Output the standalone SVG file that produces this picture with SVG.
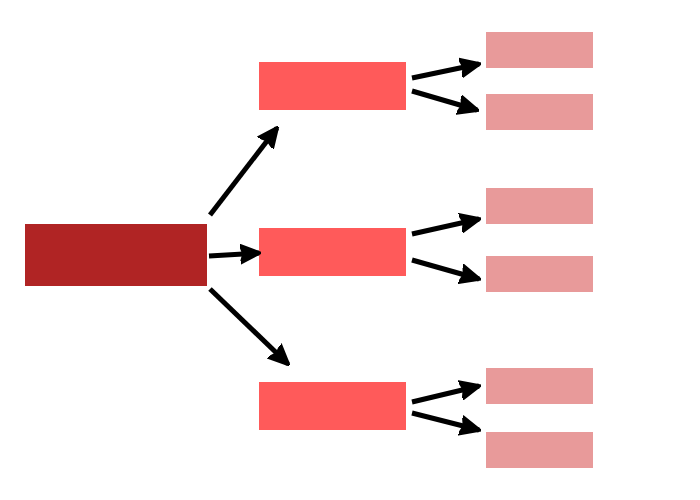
<svg xmlns="http://www.w3.org/2000/svg" width="700" height="500" viewBox="0 0 700 500">
<style>
.root{fill:#b02424}
.mid{fill:#ff5a5a}
.leaf{fill:#e89a9a}
.c{stroke:#000;stroke-width:5;fill:none;marker-end:url(#ah)}
</style>
<defs>
<marker id="ah" viewBox="0 0 10 10" refX="9" refY="5" markerWidth="4.2" markerHeight="4.2" markerUnits="strokeWidth" orient="auto">
<path d="M0,0.5 L10,5 L0,9.5 L1.5,5 Z" fill="#000" stroke="#000" stroke-width="1" stroke-linejoin="round"/>
</marker>
</defs>
<rect width="700" height="500" fill="#fff"/>
<g id="root"><rect class="root" x="25" y="224" width="182" height="62"/></g>
<g id="m1"><rect class="mid" x="259" y="62" width="147" height="48"/></g>
<g id="m2"><rect class="mid" x="259" y="228" width="147" height="48"/></g>
<g id="m3"><rect class="mid" x="259" y="382" width="147" height="48"/></g>
<g id="l1"><rect class="leaf" x="486" y="32" width="107" height="36"/></g>
<g id="l2"><rect class="leaf" x="486" y="94" width="107" height="36"/></g>
<g id="l3"><rect class="leaf" x="486" y="188" width="107" height="36"/></g>
<g id="l4"><rect class="leaf" x="486" y="256" width="107" height="36"/></g>
<g id="l5"><rect class="leaf" x="486" y="368" width="107" height="36"/></g>
<g id="l6"><rect class="leaf" x="486" y="432" width="107" height="36"/></g>
<g id="connectors">
<line class="c" x1="210" y1="215" x2="277" y2="128"/>
<line class="c" x1="209" y1="256" x2="259" y2="253"/>
<line class="c" x1="210" y1="289" x2="288" y2="364"/>
<line class="c" x1="412" y1="78" x2="479" y2="64"/>
<line class="c" x1="412" y1="91" x2="477" y2="110"/>
<line class="c" x1="412" y1="234" x2="479" y2="219"/>
<line class="c" x1="412" y1="260" x2="479" y2="279"/>
<line class="c" x1="412" y1="402" x2="479" y2="386"/>
<line class="c" x1="412" y1="413" x2="479" y2="430"/>
</g>
</svg>
